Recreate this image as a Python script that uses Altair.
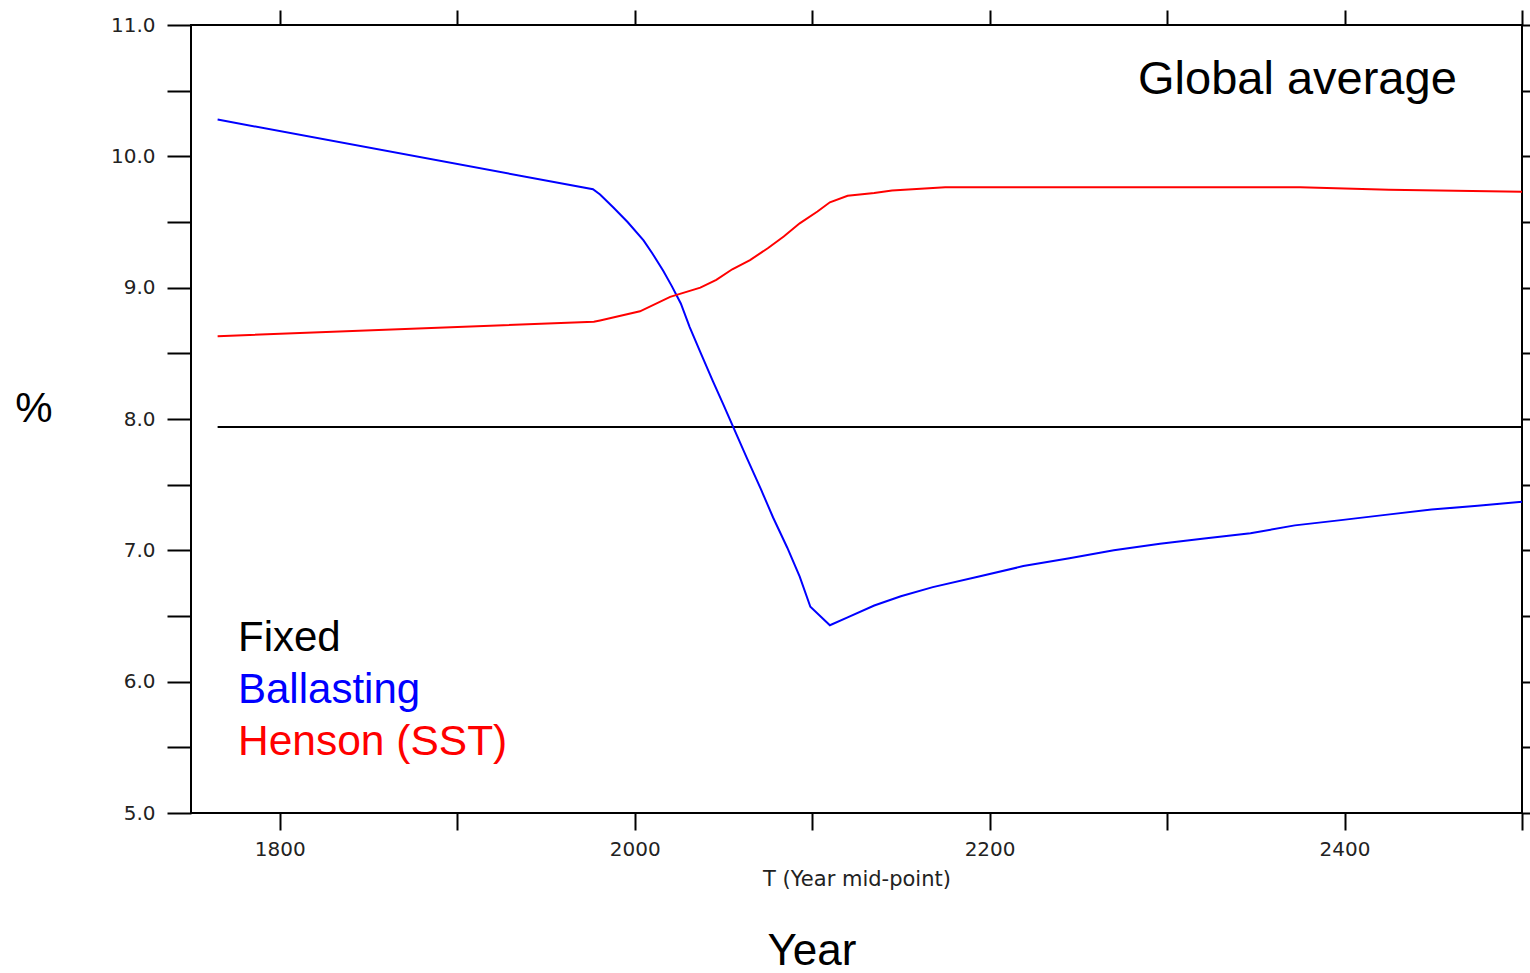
import altair as alt
import pandas as pd

# Global-average series (percent) against the year mid-point
ballast_years = [1765, 1976.5, 1980.5, 1988, 1996, 2005, 2010, 2016, 2021, 2026, 2031,
                 2037, 2044, 2050, 2055.5, 2063, 2071, 2078, 2086, 2093, 2099, 2110,
                 2120, 2135, 2150, 2168, 2194, 2219, 2245, 2270, 2296, 2321, 2347,
                 2372, 2398, 2423, 2449, 2475, 2500]
ballast_vals = [10.28, 9.75, 9.71, 9.61, 9.50, 9.36, 9.26, 9.13, 9.01, 8.88, 8.70,
                8.51, 8.29, 8.11, 7.94, 7.71, 7.47, 7.25, 7.02, 6.80, 6.57, 6.43,
                6.49, 6.58, 6.65, 6.72, 6.80, 6.88, 6.94, 7.00, 7.05, 7.09, 7.13,
                7.19, 7.23, 7.27, 7.31, 7.34, 7.37]

henson_years = [1765, 1977, 1980.5, 2003, 2020, 2037, 2046, 2055, 2065, 2075, 2084,
                2093, 2103, 2110, 2120, 2135, 2145, 2175, 2375, 2425, 2500]
henson_vals = [8.63, 8.74, 8.75, 8.82, 8.93, 9.00, 9.06, 9.14, 9.21, 9.30, 9.39,
               9.49, 9.58, 9.65, 9.70, 9.72, 9.74, 9.765, 9.765, 9.745, 9.73]

fixed_years = [1765, 2500]
fixed_vals = [7.94, 7.94]

series_names = ["Fixed", "Ballasting", "Henson (SST)"]
series_colors = ["#000000", "#0000ff", "#ff0000"]

x_ticks = [1800, 1900, 2000, 2100, 2200, 2300, 2400, 2500]
y_ticks = [5.0, 5.5, 6.0, 6.5, 7.0, 7.5, 8.0, 8.5, 9.0, 9.5, 10.0, 10.5, 11.0]

frames = []
for name, yrs, vals in [("Fixed", fixed_years, fixed_vals),
                        ("Ballasting", ballast_years, ballast_vals),
                        ("Henson (SST)", henson_years, henson_vals)]:
    frames.append(pd.DataFrame({"year": yrs, "value": vals, "series": name}))
df = pd.concat(frames, ignore_index=True)

W, H = 1331, 788
TICK_FONT = "DejaVu Sans"
SANS = "Liberation Sans"

x_scale = alt.Scale(domain=[1750, 2500], nice=False, zero=False)
y_scale = alt.Scale(domain=[5, 11], nice=False, zero=False)
color = alt.Color("series:N", scale=alt.Scale(domain=series_names, range=series_colors),
                  legend=None)

base = alt.Chart(df)

lines = base.mark_line(strokeWidth=2).encode(
    x=alt.X("year:Q", scale=x_scale,
            axis=alt.Axis(orient="bottom", values=x_ticks, grid=False, domain=False,
                          tickSize=17, tickWidth=2, tickColor="black",
                          labelExpr="datum.value % 200 == 0 ? datum.label : ''",
                          format="d", labelFont=TICK_FONT, labelFontSize=20,
                          labelColor="#222", labelPadding=9,
                          title="T (Year mid-point)", titleFont=TICK_FONT,
                          titleFontSize=21, titleFontWeight="normal",
                          titleColor="#222", titlePadding=9)),
    y=alt.Y("value:Q", scale=y_scale,
            axis=alt.Axis(orient="left", values=y_ticks, grid=False, domain=False,
                          tickSize=24, tickWidth=2, tickColor="black",
                          labelExpr="datum.value % 1 == 0 ? format(datum.value, '.1f') : ''",
                          labelFont=TICK_FONT, labelFontSize=20, labelColor="#222",
                          labelPadding=12, title=None)),
    color=color,
    detail="series:N",
)

# invisible copy carrying the top and right tick axes
mirror = base.mark_line(opacity=0).encode(
    x=alt.X("year:Q", scale=x_scale,
            axis=alt.Axis(orient="top", values=x_ticks, grid=False, domain=False,
                          labels=False, tickSize=15, tickWidth=2, tickColor="black",
                          title=None)),
    y=alt.Y("value:Q", scale=y_scale,
            axis=alt.Axis(orient="right", values=y_ticks, grid=False, domain=False,
                          labels=False, tickSize=10, tickWidth=2, tickColor="black",
                          title=None)),
    detail="series:N",
)

one = alt.Data(values=[{}])


def note(text, x, y, size, color="black", align="left"):
    return alt.Chart(one).mark_text(
        text=text, font=SANS, fontSize=size, color=color, align=align,
        baseline="alphabetic"
    ).encode(x=alt.value(x), y=alt.value(y))


notes = [
    note("Global average", 947, 69, 47),
    note("Fixed", 47, 626, 42, series_colors[0]),
    note("Ballasting", 47, 678, 42, series_colors[1]),
    note("Henson (SST)", 47, 730, 42.5, series_colors[2]),
    note("%", -157, 397, 42, align="center"),
    note("Year", 621, 940, 44, align="center"),
]

chart = alt.layer(lines, mirror, *notes).resolve_axis(
    x="independent", y="independent"
).properties(
    width=W, height=H,
    autosize=alt.AutoSizeParams(type="none"),
    padding={"left": 191, "top": 25, "right": 8, "bottom": 160},
    background="white",
).configure_view(stroke="black", strokeWidth=2)

chart.save("out.html", embed_options={"renderer": "svg", "actions": False})
